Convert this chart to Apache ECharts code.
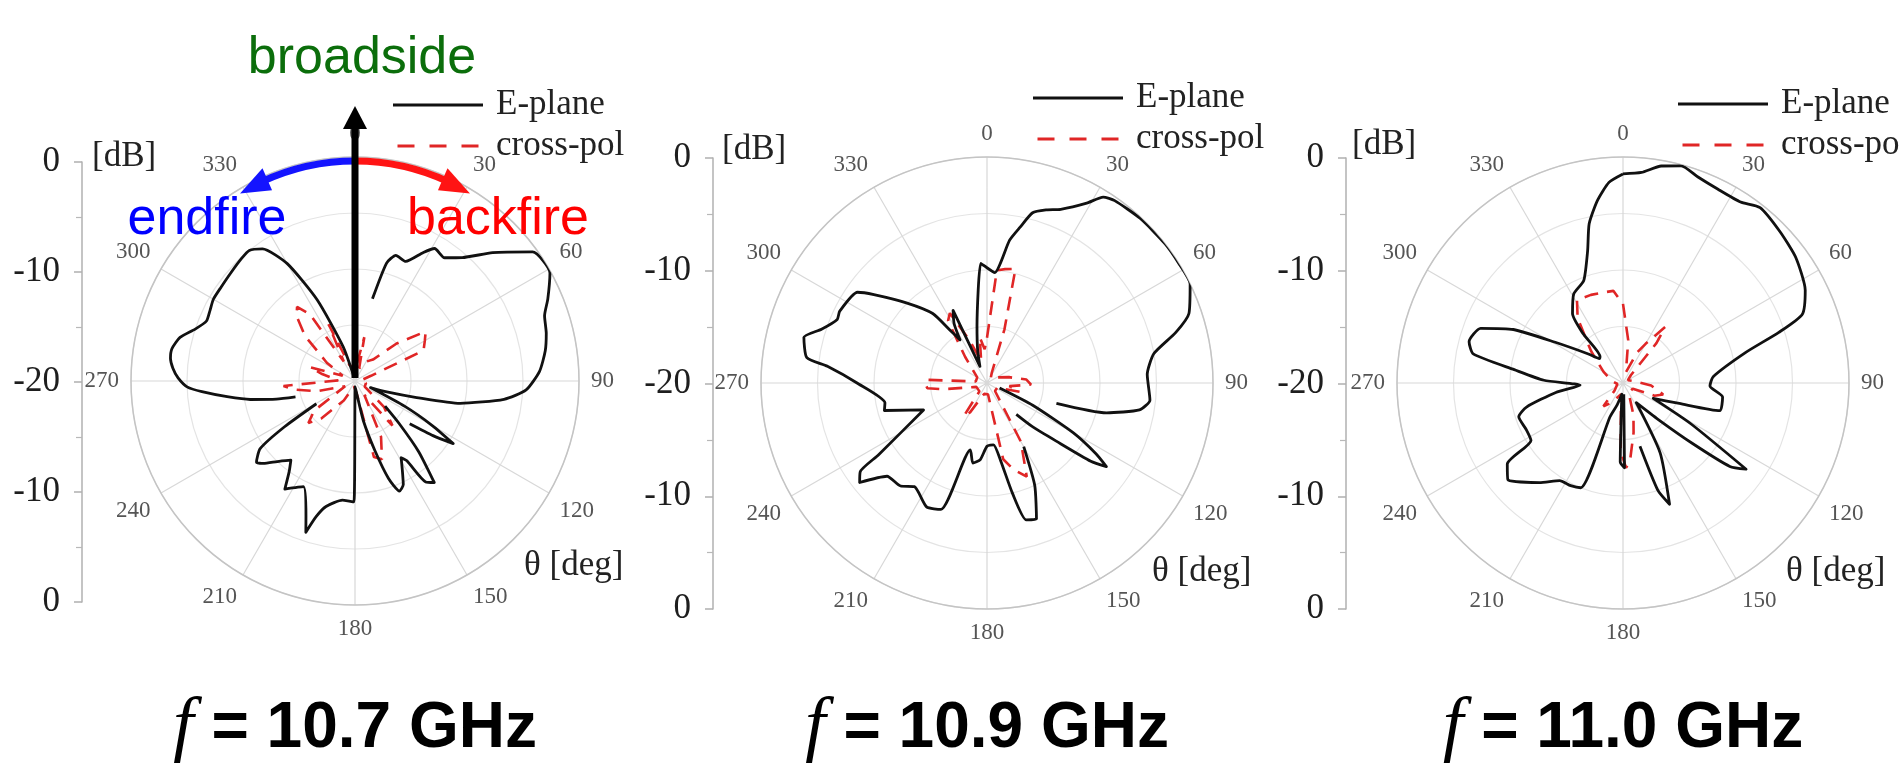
<!DOCTYPE html>
<html>
<head>
<meta charset="utf-8">
<script src="https://cdn.jsdelivr.net/npm/echarts@6/dist/echarts.min.js"></script>
<style>
  html, body { margin: 0; padding: 0; background: #fff; }
  #chart { width: 1900px; height: 763px; }
</style>
</head>
<body>
<div id="chart"></div>
<script>
// frequency of each pattern, left to right
var freqs = ['10.7', '10.9', '11.0'];

// [theta deg, level dB]; null = line break (below -20 dB)
var ePlane107 = [
  [12, -12.5], [15, -9.1], [18, -8.2], [23, -8.4], [28, -7.0], [31, -6.2], [36, -6.4], [41, -5.4],
  [47, -3.2], [54, -0.4], [61, -0.1], [67, -1.3], [71, -2.1], [76, -2.4], [81, -2.8], [87, -3.5],
  [93, -4.7], [97, -6.6], [102, -10.4], [105, -14.3], [109, -17.0], [113, -18.5], [117, -15],
  [120, -12], [122.5, -9.6], [125, -11.5], [128, -13.8], [129, null], [130, -16.5], [134, -14.5],
  [138, -11.5], [142, -8.5], [145, -9.0], [147, -11.5], [149, -12.0], [152, -11.0], [155, -9.8],
  [158, -9.4], [161, -10.8], [164, -13.5], [168, -16.3], [173, -19], [179, -19.5], [180.5, -9.2],
  [186, -9.3], [193, -8.5], [196, -7.4], [198, -5.8], [200, -7.2], [206, -9.5], [213, -8.5],
  [216, -10], [219, -10.9], [224, -10], [228, -9.0], [230.5, -8.6], [234.5, -9.6], [237, -12.5],
  [239.5, -16], [247, null], [255, -14.5], [257, -12.8], [260, -10.5], [263, -8.5], [266, -6.3],
  [268, -5.0], [271, -4.2], [274, -3.7], [277, -3.4], [280, -3.4], [284, -3.9], [288, -5.0],
  [292, -5.7], [296, -5.6], [300, -5.4], [305, -5.4], [311, -5.3], [317, -5.1], [321, -5.0],
  [325, -5.6], [330, -7.9], [335, -12.0], [341, -16.8], [345, -19.5]
];
var crossPol107 = [
  [0, -14.5], [6, -18.5], [12, -16], [18, -18.8], [30, -18], [40, -17.5], [48, -15], [55, -12.3],
  [60, -12.8], [66, -13.3], [72, -18.5], [85, -19.5], [100, -19], [120, -19], [132, -16.5],
  [140, -14.8], [146, -18.5], [155, -14.5], [161, -12.6], [166, -13], [172, -18.8], [190, -19.5],
  [210, -18], [222, -15.5], [228, -14.4], [234, -15.5], [242, -19], [255, -16.5], [262, -14.5],
  [266, -13.6], [272, -18.5], [282, -17], [287, -15.8], [293, -18.8], [303, -17], [312, -14],
  [318, -12.2], [322, -11.6], [326, -12.8], [330, -18], [335, -14.4], [341, -18.5], [352, -18.8],
  [360, -14.5]
];

var ePlane109 = [
  [0, -9.8], [4, -10.2], [9, -7.2], [12, -5.9], [15, -4.4], [19, -3.8], [23, -3.3], [29, -1.8],
  [32, -0.6], [35, -0.3], [43, -0.1], [52, 0], [58, 0], [64, 0], [71, -1.1], [75, -2.7], [80, -5.0],
  [87, -5.8], [96, -5.5], [100, -6.3], [104, -9.1], [106.3, -13.6], [109, null], [112, -18.8],
  [116, -15.5], [120, -11.2], [123, -8.5], [125, -7.1], [127, -8.5], [130, -12.0], [134, -14.5],
  [137, -16.2], [144, null], [150, -13.5], [155, -10], [160, -7.2], [164, -7.4], [167, -10],
  [170, -13], [174, -14.5], [180, -14.4], [185, -13.2], [190, -12.8], [194, -13.9], [200, -8.1],
  [206, -7.8], [215, -8.8], [220, -8.1], [227, -7.9], [232, -5.7], [235, -6.3], [236.5, -8.5],
  [247, -13.9], [255, -10.6], [259, -10.8], [270, -8.5], [276, -5.8], [278, -3.9], [284, -3.3],
  [288, -4.6], [293, -5.6], [296, -5.5], [305, -6.0], [308, -7.3], [315, -10.0], [322, -12.2],
  [325, -14.3], [328, -15.5], [331, -14], [335, -12.9], [337, -18.4], [344, -17], [350, -14.9],
  [357, -9.4], [360, -9.8]
];
var crossPol109 = [
  [0, -16], [5, -10.0], [9, -9.8], [14, -9.6], [18, -15], [25, -19], [40, -19.5], [60, -19],
  [75, -18], [85, -16.5], [92, -16.1], [98, -18], [105, -17], [115, -19], [135, -19], [150, -14],
  [157, -11.0], [163, -12], [168, -13.1], [175, -19], [195, -19], [210, -17], [215, -16.4],
  [222, -19], [250, -19], [262, -16], [265, -14.7], [270, -14.5], [273, -14.7], [278, -19],
  [300, -19], [320, -17], [328, -13.5], [332, -13.0], [338, -16], [345, -18], [351, -15.9],
  [356, -17], [360, -16]
];

var ePlane110 = [
  [0, -1.5], [5, -1.3], [10, -0.5], [15, -0.1], [20, -0.6], [26, -0.9], [33, -0.9], [38, -0.3],
  [46, -0.7], [54, -1.1], [63, -1.9], [69, -3.0], [72, -5.5], [76, -8.8], [86, -12.0], [92, -12.3],
  [98, -11.1], [106, -11.1], [110, -14.7], [117, -17.0], [121, -13], [125, -6.7], [128, -8],
  [131, -11.8], [136, -15.5], [146, -17.9], [152, -13], [159, -8.5], [162, -10], [165, -14.2],
  [170, null], [176, -19], [179, -12.5], [182, -13], [186, -19], [195, -18], [201, -16.8],
  [202, -10.0], [207, -9.8], [213, -9.7], [220, -8.5], [230, -6.7], [235, -7.5], [238, -10.4],
  [244, -10.5], [252, -10.3], [256, -11.2], [262, -14], [267, -16.2], [272, -13], [277, -10.3],
  [281, -6.5], [285, -5.9], [291, -6.5], [296, -9.2], [301, -13], [310, -16], [316, -17],
  [319, -16.9], [321, -14.4], [324, -12.4], [331, -11.0], [339, -10.3], [345, -7.9], [348, -5.6],
  [352, -3.7], [356, -2.2], [360, -1.5]
];
var crossPol110 = [
  [0, -13], [7, -16.2], [15, -19], [25, -17], [30, -16], [37, -13.8], [40, -15.4], [45, -19],
  [60, -19.5], [80, -19], [95, -17.5], [106, -16.3], [112, -17], [120, -19], [150, -19],
  [162, -17], [168, -15.5], [175, -13], [178, -12.5], [182, -14], [190, -19], [210, -18],
  [220, -17.3], [228, -19], [260, -19.5], [280, -19], [300, -18], [315, -16], [325, -13],
  [331, -11.6], [340, -11.7], [348, -11.8], [354, -11.8], [360, -13]
];

var ePlanes = [ePlane107, ePlane109, ePlane110];
var crossPols = [crossPol107, crossPol109, crossPol110];

// where each panel sits on the page
var panels = [
  { cx: 355, cy: 381, r: 224, axisX: 82, axisTop: 162, axisH: 440, legX: 393, legY: 85, dbX: 92, dbY: 157, degX: 524, degY: 566 },
  { cx: 987, cy: 383, r: 226, axisX: 713, axisTop: 158, axisH: 451, legX: 1033, legY: 78, dbX: 722, dbY: 150, degX: 1152, degY: 572 },
  { cx: 1623, cy: 383, r: 226, axisX: 1346, axisTop: 158, axisH: 451, legX: 1678, legY: 84, dbX: 1352, dbY: 145, degX: 1786, degY: 572 }
];

var SERIF = '"Liberation Serif", "Times New Roman", serif';
var SANS = '"Liberation Sans", Arial, sans-serif';
var SOLID_ICON = 'path://M0,0H90V3H0Z';
var DASH_ICON = 'path://M0,0H17V3H0Z M32,0H49V3H32Z M64,0H81V3H64Z';

function toPolar(list) {
  return list.map(function (p) { return [p[1] === null ? '-' : p[1], p[0]]; });
}

var chart = echarts.init(document.getElementById('chart'));

var polar = [], angleAxis = [], radiusAxis = [], grid = [], xAxis = [], yAxis = [], legend = [], series = [], graphic = [];

panels.forEach(function (P, i) {
  polar.push({ center: [P.cx, P.cy], radius: P.r });
  angleAxis.push({
    polarIndex: i, type: 'value', min: 0, max: 360, interval: 30, startAngle: 90, clockwise: true,
    axisLine: { lineStyle: { color: '#c4c4c4', width: 1.5 } },
    axisTick: { show: false },
    axisLabel: {
      margin: 12, fontFamily: SERIF, fontSize: 23, color: '#555',
      formatter: function (v) { return v === 360 ? '' : String(v); }
    },
    splitLine: { lineStyle: { color: '#d8d8d8', width: 1.2 } }
  });
  radiusAxis.push({
    polarIndex: i, type: 'value', min: -20, max: 0, interval: 5,
    axisLine: { show: false }, axisTick: { show: false }, axisLabel: { show: false },
    splitLine: { lineStyle: { color: '#e4e4e4', width: 1.2 } }
  });

  grid.push({ left: P.axisX, top: P.axisTop, width: 10, height: P.axisH });
  xAxis.push({ gridIndex: i, type: 'value', show: false });
  yAxis.push({
    gridIndex: i, type: 'value', min: -20, max: 20, interval: 10,
    axisLine: { show: true, lineStyle: { color: '#b0b0b0', width: 1.5 } },
    axisTick: { show: true, length: 8, lineStyle: { color: '#b0b0b0', width: 1.5 } },
    minorTick: { show: true, splitNumber: 2, length: 6, lineStyle: { color: '#b8b8b8', width: 1.2 } },
    splitLine: { show: false },
    axisLabel: {
      margin: 22, fontFamily: SERIF, fontSize: 35, color: '#1e1e1e',
      formatter: function (v) { return String(Math.abs(v) - 20); }
    }
  });

  legend.push({
    left: P.legX, top: P.legY, orient: 'vertical', padding: 0, itemGap: 1,
    itemWidth: 90, itemHeight: 3, selectedMode: false,
    data: [{ name: 'E-plane', icon: SOLID_ICON }, { name: 'cross-pol', icon: DASH_ICON }],
    textStyle: { fontFamily: SERIF, fontSize: 35, color: '#222', lineHeight: 40, padding: [0, 0, 0, 8] }
  });

  series.push({
    name: 'E-plane', type: 'line', coordinateSystem: 'polar', polarIndex: i,
    data: toPolar(ePlanes[i]), symbol: 'none', smooth: 0.2, connectNulls: false,
    lineStyle: { color: '#111', width: 2.8, join: 'round' }, itemStyle: { color: '#111' }, z: 4
  });
  series.push({
    name: 'cross-pol', type: 'line', coordinateSystem: 'polar', polarIndex: i,
    data: toPolar(crossPols[i]), symbol: 'none', smooth: false,
    lineStyle: { color: '#e02626', width: 2.6, type: [14, 9] }, itemStyle: { color: '#e02626' }, z: 3
  });

  graphic.push({
    type: 'text', x: P.dbX, y: P.dbY, z: 50,
    style: { text: '[dB]', fontFamily: SERIF, fontSize: 35, fill: '#222', align: 'left', verticalAlign: 'middle' }
  });
  graphic.push({
    type: 'text', x: P.degX, y: P.degY, z: 50,
    style: { text: '\u03b8 [deg]', fontFamily: SERIF, fontSize: 35, fill: '#222', align: 'left', verticalAlign: 'middle' }
  });
  graphic.push({
    type: 'text', x: P.cx, y: 729, z: 50,
    style: {
      text: '{f|f} = ' + freqs[i] + ' GHz', fontFamily: SANS, fontWeight: 'bold', fontSize: 64,
      fill: '#000', align: 'center', verticalAlign: 'middle',
      rich: { f: { fontFamily: SERIF, fontStyle: 'italic', fontWeight: 'normal', fontSize: 74, fill: '#000' } }
    }
  });
});

// broadside / endfire / backfire markers on the first panel
var A = panels[0];
var arcR = 220;
function onCircle(deg, rr) {
  var a = deg * Math.PI / 180;
  return [A.cx + rr * Math.sin(a), A.cy - rr * Math.cos(a)];
}
function headAt(tipDeg, baseDeg, half) {
  var t = onCircle(tipDeg, arcR), b = onCircle(baseDeg, arcR);
  var a = baseDeg * Math.PI / 180, nx = Math.sin(a), ny = -Math.cos(a);
  return [t, [b[0] + nx * half, b[1] + ny * half], [b[0] - nx * half, b[1] - ny * half]];
}
var toRad = Math.PI / 180;
graphic.push(
  { type: 'arc', z: 60, shape: { cx: A.cx, cy: A.cy, r: arcR, startAngle: -90 * toRad, endAngle: (-90 - 25) * toRad, clockwise: false },
    style: { stroke: '#1414ff', lineWidth: 7, fill: null } },
  { type: 'polygon', z: 60, shape: { points: headAt(-31.5, -23.5, 12) }, style: { fill: '#1414ff' } },
  { type: 'arc', z: 60, shape: { cx: A.cx, cy: A.cy, r: arcR, startAngle: -90 * toRad, endAngle: (-90 + 25) * toRad, clockwise: true },
    style: { stroke: '#ff1414', lineWidth: 7, fill: null } },
  { type: 'polygon', z: 60, shape: { points: headAt(31.5, 23.5, 12) }, style: { fill: '#ff1414' } },
  { type: 'line', z: 61, shape: { x1: A.cx, y1: A.cy - 3, x2: A.cx, y2: 126 }, style: { stroke: '#000', lineWidth: 7 } },
  { type: 'polygon', z: 61, shape: { points: [[A.cx, 106], [A.cx - 12, 129], [A.cx + 12, 129]] }, style: { fill: '#000' } },
  { type: 'text', x: 362, y: 59, z: 62, style: { text: 'broadside', fontFamily: SANS, fontSize: 52, fill: '#0b6e0b', align: 'center', verticalAlign: 'middle' } },
  { type: 'text', x: 207, y: 220, z: 62, style: { text: 'endfire', fontFamily: SANS, fontSize: 52, fill: '#0000ff', align: 'center', verticalAlign: 'middle' } },
  { type: 'text', x: 498, y: 220, z: 62, style: { text: 'backfire', fontFamily: SANS, fontSize: 52, fill: '#ff0000', align: 'center', verticalAlign: 'middle' } }
);

chart.setOption({
  animation: false,
  backgroundColor: '#fff',
  polar: polar,
  angleAxis: angleAxis,
  radiusAxis: radiusAxis,
  grid: grid,
  xAxis: xAxis,
  yAxis: yAxis,
  legend: legend,
  series: series,
  graphic: graphic
});
</script>
</body>
</html>
